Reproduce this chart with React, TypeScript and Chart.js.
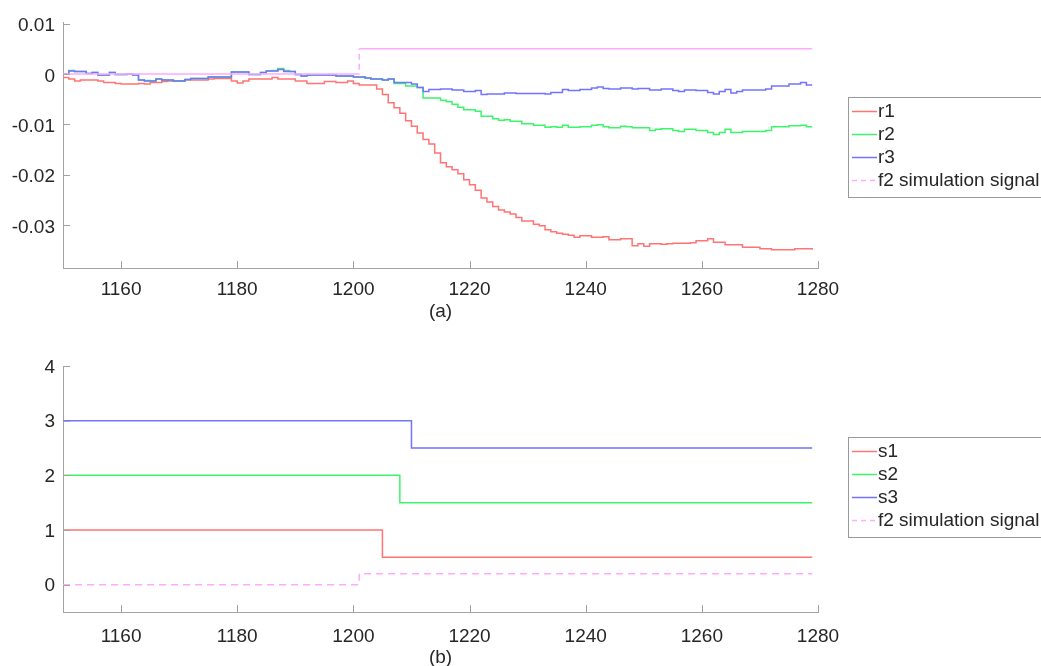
import React, { useEffect, useRef } from 'react';
import { Chart, registerables } from 'chart.js';

Chart.register(...registerables);

// ---------- data ----------
const startTime = 1150;

const r1Values = [
  -0.0007, -0.0010, -0.0014, -0.0012, -0.0012, -0.0012, -0.0014, -0.0017, -0.0017, -0.0019,
  -0.0020, -0.0020, -0.0020, -0.0019, -0.0020, -0.0017, -0.0017, -0.0015, -0.0014, -0.0014,
  -0.0014, -0.0012, -0.0012, -0.0012, -0.0012, -0.0010, -0.0009, -0.0009, -0.0009, -0.0014,
  -0.0018, -0.0014, -0.0010, -0.0010, -0.0010, -0.0010, -0.0007, -0.0010, -0.0010, -0.0010,
  -0.0014, -0.0014, -0.0019, -0.0019, -0.0019, -0.0015, -0.0015, -0.0017, -0.0017, -0.0014,
  -0.0019, -0.0022, -0.0022, -0.0022, -0.0030, -0.0041, -0.0057, -0.0067, -0.0078, -0.0093,
  -0.0104, -0.0117, -0.0130, -0.0139, -0.0157, -0.0176, -0.0184, -0.0190, -0.0198, -0.0210,
  -0.0220, -0.0231, -0.0246, -0.0254, -0.0263, -0.0270, -0.0274, -0.0278, -0.0285, -0.0292,
  -0.0292, -0.0298, -0.0301, -0.0309, -0.0313, -0.0316, -0.0318, -0.0320, -0.0324, -0.0321,
  -0.0321, -0.0324, -0.0324, -0.0323, -0.0329, -0.0329, -0.0327, -0.0327, -0.0341, -0.0337,
  -0.0342, -0.0337, -0.0337, -0.0338, -0.0337, -0.0336, -0.0336, -0.0336, -0.0335, -0.0331,
  -0.0331, -0.0327, -0.0334, -0.0334, -0.0339, -0.0339, -0.0339, -0.0344, -0.0344, -0.0344,
  -0.0347, -0.0347, -0.0349, -0.0349, -0.0349, -0.0349, -0.0347, -0.0347, -0.0347, -0.0349,
];

const r2Values = [
  0.0000, 0.0007, 0.0005, 0.0005, 0.0001, 0.0003, -0.0002, -0.0002, 0.0003, -0.0001,
  -0.0001, 0.0000, -0.0002, -0.0012, -0.0013, -0.0014, -0.0010, -0.0012, -0.0012, -0.0014,
  -0.0014, -0.0011, -0.0009, -0.0009, -0.0009, -0.0006, -0.0006, -0.0006, -0.0006, 0.0004,
  0.0004, 0.0004, -0.0001, -0.0001, 0.0003, 0.0006, 0.0007, 0.0011, 0.0007, 0.0005,
  -0.0001, -0.0004, -0.0002, -0.0002, -0.0002, -0.0002, -0.0002, -0.0004, -0.0004, -0.0004,
  -0.0006, -0.0006, -0.0008, -0.0010, -0.0010, -0.0012, -0.0010, -0.0019, -0.0019, -0.0024,
  -0.0024, -0.0027, -0.0048, -0.0048, -0.0048, -0.0052, -0.0055, -0.0060, -0.0066, -0.0071,
  -0.0071, -0.0074, -0.0084, -0.0084, -0.0089, -0.0092, -0.0091, -0.0094, -0.0094, -0.0099,
  -0.0099, -0.0102, -0.0102, -0.0106, -0.0105, -0.0106, -0.0102, -0.0106, -0.0106, -0.0105,
  -0.0105, -0.0102, -0.0101, -0.0105, -0.0107, -0.0107, -0.0104, -0.0105, -0.0107, -0.0107,
  -0.0107, -0.0112, -0.0110, -0.0109, -0.0109, -0.0112, -0.0114, -0.0110, -0.0110, -0.0112,
  -0.0112, -0.0116, -0.0120, -0.0116, -0.0110, -0.0116, -0.0116, -0.0114, -0.0114, -0.0114,
  -0.0114, -0.0112, -0.0105, -0.0105, -0.0105, -0.0103, -0.0103, -0.0102, -0.0105, -0.0105,
];

const r3Values = [
  0.0000, 0.0006, 0.0005, 0.0005, 0.0001, 0.0003, -0.0002, -0.0002, 0.0003, -0.0001,
  -0.0001, 0.0000, -0.0002, -0.0012, -0.0014, -0.0014, -0.0010, -0.0012, -0.0012, -0.0014,
  -0.0014, -0.0011, -0.0009, -0.0009, -0.0009, -0.0006, -0.0006, -0.0006, -0.0006, 0.0004,
  0.0004, 0.0004, -0.0001, -0.0001, 0.0003, 0.0006, 0.0006, 0.0009, 0.0005, 0.0005,
  -0.0001, -0.0004, -0.0002, -0.0002, -0.0002, -0.0002, -0.0002, -0.0004, -0.0004, -0.0004,
  -0.0006, -0.0006, -0.0008, -0.0010, -0.0010, -0.0012, -0.0010, -0.0017, -0.0017, -0.0017,
  -0.0020, -0.0027, -0.0035, -0.0031, -0.0031, -0.0030, -0.0030, -0.0032, -0.0032, -0.0035,
  -0.0035, -0.0033, -0.0041, -0.0040, -0.0040, -0.0040, -0.0038, -0.0038, -0.0039, -0.0039,
  -0.0039, -0.0039, -0.0039, -0.0040, -0.0037, -0.0037, -0.0031, -0.0033, -0.0033, -0.0031,
  -0.0031, -0.0028, -0.0026, -0.0029, -0.0030, -0.0030, -0.0028, -0.0028, -0.0030, -0.0029,
  -0.0029, -0.0032, -0.0032, -0.0030, -0.0030, -0.0033, -0.0035, -0.0032, -0.0032, -0.0033,
  -0.0033, -0.0037, -0.0040, -0.0035, -0.0031, -0.0038, -0.0035, -0.0032, -0.0032, -0.0032,
  -0.0032, -0.0030, -0.0024, -0.0024, -0.0024, -0.0020, -0.0020, -0.0017, -0.0022, -0.0022,
];

const f2Times = [1150, 1200, 1201, 1279];
const f2TopValues = [0, 0, 0.005, 0.005];
const f2BottomValues = [0, 0, 0.2, 0.2];

const s1Times = [1150, 1205, 1279];
const s1Values = [1, 0.5, 0.5];
const s2Times = [1150, 1208, 1279];
const s2Values = [2, 1.5, 1.5];
const s3Times = [1150, 1210, 1279];
const s3Values = [3, 2.5, 2.5];

const xTickValues = [1160, 1180, 1200, 1220, 1240, 1260, 1280];
const yTopTicks = [-0.03, -0.02, -0.01, 0, 0.01];
const yTopTickLabels = ['-0.03', '-0.02', '-0.01', '0', '0.01'];
const yBottomTicks = [0, 1, 2, 3, 4];
const yBottomTickLabels = ['0', '1', '2', '3', '4'];

// ---------- styles ----------
const RED = '#ff7474';
const GREEN = '#3df56a';
const BLUE = '#7373ff';
const PINK = '#ffaaff';
const AXIS = '#a3a3a3';
const TEXT = '#262626';
const FONT = '"Liberation Sans", Arial, sans-serif';

const seriesPoints = (values: number[]) => values.map((v, i) => ({ x: startTime + i, y: v }));
const pairPoints = (times: number[], values: number[]) => times.map((t, i) => ({ x: t, y: values[i] }));

// inward tick marks (MATLAB style)
const inwardTicks = {
  id: 'inwardTicks',
  afterDatasetsDraw(chart: any) {
    const { ctx, chartArea } = chart;
    const xs = chart.scales.x;
    const ys = chart.scales.y;
    ctx.save();
    ctx.strokeStyle = AXIS;
    ctx.lineWidth = 1;
    ctx.beginPath();
    xs.ticks.forEach((t: any) => {
      const px = Math.round(xs.getPixelForValue(t.value)) + 0.5;
      ctx.moveTo(px, chartArea.bottom);
      ctx.lineTo(px, chartArea.bottom - 7);
    });
    ys.ticks.forEach((t: any) => {
      const py = Math.round(ys.getPixelForValue(t.value)) + 0.5;
      ctx.moveTo(chartArea.left, py);
      ctx.lineTo(chartArea.left + 7, py);
    });
    ctx.stroke();
    ctx.restore();
  },
};

const boxLegend = {
  id: 'boxLegend',
  afterDraw(chart: any, _args: any, opts: any) {
    const { ctx, chartArea } = chart;
    const h = 100;
    const w = 240;
    const left = Math.round(chartArea.right + 30);
    const top = Math.round((chartArea.top + chartArea.bottom) / 2 - h / 2 + (opts?.dy ?? 0));
    ctx.save();
    ctx.fillStyle = '#ffffff';
    ctx.fillRect(left, top, w, h);
    ctx.strokeStyle = '#9a9a9a';
    ctx.lineWidth = 1;
    ctx.strokeRect(left + 0.5, top + 0.5, w, h);
    chart.data.datasets.forEach((ds: any, i: number) => {
      const y = top + 14 + i * 23;
      ctx.beginPath();
      ctx.setLineDash(ds.legendDash || []);
      ctx.strokeStyle = ds.borderColor;
      ctx.lineWidth = 1.5;
      ctx.moveTo(left + 4, y + 0.5);
      ctx.lineTo(left + 29, y + 0.5);
      ctx.stroke();
      ctx.setLineDash([]);
      ctx.fillStyle = TEXT;
      ctx.font = `19px ${FONT}`;
      ctx.textBaseline = 'middle';
      ctx.textAlign = 'left';
      ctx.fillText(ds.label, left + 30, y + 1);
    });
    ctx.restore();
  },
};

function makeOptions(
  yMin: number,
  yMax: number,
  yTicks: number[],
  yLabels: string[],
  title: string,
  xLabelPad: number,
  titlePad: number,
  yLabelOffset: number,
  legendDy: number
) {
  return {
    responsive: false,
    animation: false as const,
    devicePixelRatio: 1,
    layout: { padding: { top: 22, right: 223, bottom: 0, left: 0 } },
    plugins: { legend: { display: false }, tooltip: { enabled: false }, boxLegend: { dy: legendDy } },
    elements: { point: { radius: 0 } },
    scales: {
      x: {
        type: 'linear' as const,
        min: 1150,
        max: 1280,
        afterBuildTicks: (s: any) => {
          s.ticks = xTickValues.map((v) => ({ value: v }));
        },
        afterFit: (s: any) => {
          s.height = 65;
        },
        ticks: {
          color: TEXT,
          font: { size: 19, family: FONT },
          padding: xLabelPad,
          maxRotation: 0,
          autoSkip: false,
          callback: (v: any) => String(v),
        },
        grid: { drawOnChartArea: false, drawTicks: false },
        border: { color: AXIS, width: 1 },
        title: {
          display: true,
          text: title,
          color: TEXT,
          font: { size: 19, family: FONT },
          padding: { top: 0, bottom: titlePad },
        },
      },
      y: {
        type: 'linear' as const,
        min: yMin,
        max: yMax,
        afterBuildTicks: (s: any) => {
          s.ticks = yTicks.map((v) => ({ value: v }));
        },
        afterFit: (s: any) => {
          s.width = 63;
        },
        ticks: {
          color: TEXT,
          font: { size: 19, family: FONT },
          padding: 8,
          labelOffset: yLabelOffset,
          callback: (_v: any, i: number) => yLabels[i],
        },
        grid: { drawOnChartArea: false, drawTicks: false },
        border: { color: AXIS, width: 1 },
      },
    },
  };
}

export default function App() {
  const topRef = useRef<HTMLCanvasElement>(null);
  const bottomRef = useRef<HTMLCanvasElement>(null);

  useEffect(() => {
    Chart.defaults.font.family = FONT;
    const top = new Chart(topRef.current!, {
      type: 'line',
      data: {
        datasets: [
          { label: 'r1', data: seriesPoints(r1Values), borderColor: RED, borderWidth: 1.5, stepped: true, order: 3 },
          { label: 'r2', data: seriesPoints(r2Values), borderColor: GREEN, borderWidth: 1.5, stepped: true, order: 2 },
          { label: 'r3', data: seriesPoints(r3Values), borderColor: BLUE, borderWidth: 1.5, stepped: true, order: 1 },
          {
            label: 'f2 simulation signal',
            data: pairPoints(f2Times, f2TopValues),
            borderColor: PINK,
            borderWidth: 1.5,
            stepped: true,
            order: 0,
            legendDash: [5, 4],
            segment: {
              borderDash: (c: any) => (c.p0.parsed.y !== c.p1.parsed.y ? [6, 4] : undefined),
            },
          } as any,
        ],
      },
      options: makeOptions(-0.0385, 0.0103, yTopTicks, yTopTickLabels, '(a)', 10, 10, 2.5, 2) as any,
      plugins: [inwardTicks, boxLegend],
    });

    const bottom = new Chart(bottomRef.current!, {
      type: 'line',
      data: {
        datasets: [
          { label: 's1', data: pairPoints(s1Times, s1Values), borderColor: RED, borderWidth: 1.5, stepped: true, order: 3 },
          { label: 's2', data: pairPoints(s2Times, s2Values), borderColor: GREEN, borderWidth: 1.5, stepped: true, order: 2 },
          { label: 's3', data: pairPoints(s3Times, s3Values), borderColor: BLUE, borderWidth: 1.5, stepped: true, order: 1 },
          {
            label: 'f2 simulation signal',
            data: pairPoints(f2Times, f2BottomValues),
            borderColor: PINK,
            borderWidth: 1.5,
            stepped: true,
            order: 0,
            borderDash: [7, 5],
            legendDash: [5, 4],
          } as any,
        ],
      },
      options: makeOptions(-0.5, 4, yBottomTicks, yBottomTickLabels, '(b)', 13, 7.5, 1.5, -2) as any,
      plugins: [inwardTicks, boxLegend],
    });

    return () => {
      top.destroy();
      bottom.destroy();
    };
  }, []);

  return (
    <div
      style={{
        position: 'fixed',
        left: 0,
        top: 0,
        width: 1041,
        height: 666,
        overflow: 'hidden',
        background: '#ffffff',
      }}
    >
      <canvas ref={topRef} width={1041} height={333} style={{ position: 'absolute', left: 0, top: 0, display: 'block' }} />
      <canvas ref={bottomRef} width={1041} height={333} style={{ position: 'absolute', left: 0, top: 344, display: 'block' }} />
    </div>
  );
}
